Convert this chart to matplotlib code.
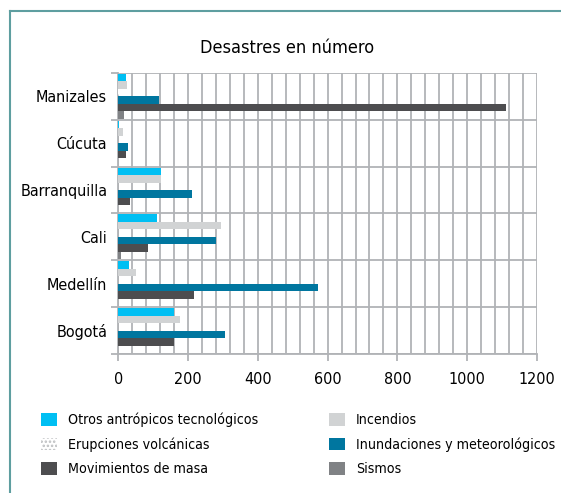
import numpy as np
import matplotlib
matplotlib.use('Agg')
import matplotlib.pyplot as plt
from matplotlib.patches import Patch
from matplotlib.lines import Line2D

plt.rcParams['font.family'] = ['DejaVu Sans']
plt.rcParams['font.stretch'] = 'condensed'
plt.rcParams['hatch.linewidth'] = 1.2

# datos (de abajo hacia arriba)
ciudades = ['Bogotá', 'Medellín', 'Cali', 'Barranquilla', 'Cúcuta', 'Manizales']
otros = [160, 31, 111, 122, 3, 22]
incendios = [177, 51, 294, 122, 12, 25]
erupciones = [0, 0, 0, 0, 0, 2]
inundaciones = [306, 572, 280, 211, 28, 117]
movimientos = [160, 217, 85, 33, 22, 1111]
sismos = [0, 0, 8, 0, 0, 15]

series = [
    ('Otros antrópicos tecnológicos', otros, '#00BFF3', None),
    ('Incendios', incendios, '#D1D3D4', None),
    ('Erupciones volcánicas', erupciones, 'white', '....'),
    ('Inundaciones y meteorológicos', inundaciones, '#00769F', None),
    ('Movimientos de masa', movimientos, '#4D4D4F', None),
    ('Sismos', sismos, '#808285', None),
]

fig = plt.figure(figsize=(5.61, 4.93), dpi=100)
ax = fig.add_axes([0.2109, 0.282, 0.7461, 0.570])

y = np.arange(len(ciudades))
h = 0.16
for i, (nombre, vals, color, hatch) in enumerate(series):
    pos = y + 0.40 - i * h
    if hatch:
        ax.barh(pos, vals, height=h, color=color, edgecolor='#BCBEC0',
                hatch=hatch, linewidth=0, zorder=3)
    else:
        ax.barh(pos, vals, height=h, color=color, zorder=3)

grid_c = '#B1B3B6'
ax.set_xlim(0, 1200)
ax.set_ylim(-0.5, 5.5)
ax.set_xticks(np.arange(0, 1201, 200))
ax.set_xticks(np.arange(0, 1201, 40), minor=True)
ax.set_yticks(np.arange(-0.5, 5.6, 1), minor=True)
ax.set_yticks(y)
ax.set_yticklabels(ciudades)
ax.grid(True, which='both', axis='x', color=grid_c, lw=1.3, zorder=0)
ax.grid(True, which='minor', axis='y', color=grid_c, lw=1.3, zorder=0)
ax.tick_params(axis='x', which='major', length=5, width=1.3, color=grid_c,
               labelsize=11.5, pad=8)
ax.tick_params(axis='x', which='minor', length=0)
ax.tick_params(axis='y', which='major', length=0, labelsize=11.5, pad=8)
ax.tick_params(axis='y', which='minor', length=5, width=1.3, color=grid_c)
for s in ['top', 'right']:
    ax.spines[s].set_visible(False)
for s in ['left', 'bottom']:
    ax.spines[s].set_color(grid_c)
    ax.spines[s].set_linewidth(1.3)

fig.text(0.512, 0.902, 'Desastres en número', ha='center', va='center',
         fontsize=13)

handles = []
for nombre, vals, color, hatch in series:
    if hatch:
        handles.append(Patch(facecolor='white', edgecolor='#BCBEC0',
                             hatch=hatch, linewidth=0, label=nombre))
    else:
        handles.append(Patch(facecolor=color, label=nombre))
orden = [0, 2, 4, 1, 3, 5]
leg = fig.legend([handles[k] for k in orden], [series[k][0] for k in orden],
                 ncol=2, loc='upper left', bbox_to_anchor=(0.05, 0.189),
                 frameon=False, fontsize=10.2, handlelength=1.15,
                 handleheight=1.0, handletextpad=0.75, labelspacing=0.72,
                 columnspacing=5.0)

# marco
fc = '#5E9EA0'
fig.add_artist(Line2D([0.017, 0.017], [0, 0.977], color=fc, lw=1.5))
fig.add_artist(Line2D([0.017, 1.0], [0.977, 0.977], color=fc, lw=1.5))

fig.savefig('out.png', dpi=100)
